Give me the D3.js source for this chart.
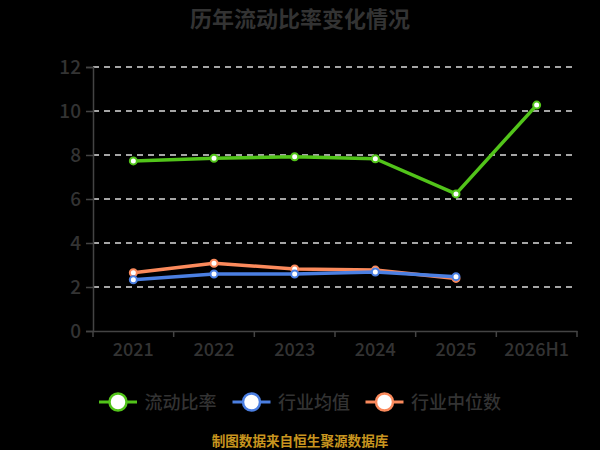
<!DOCTYPE html>
<html><head><meta charset="utf-8">
<script src="https://cdn.jsdelivr.net/npm/d3@7"></script>
<style>html,body{margin:0;padding:0;background:#000;}svg{display:block;}</style>
</head><body>
<svg id="c" width="600" height="450"></svg>
<script>
const categories = ["2021","2022","2023","2024","2025","2026H1"];
const currentRatio = [7.73, 7.85, 7.92, 7.83, 6.23, 10.27];
const industryMean = [2.33, 2.59, 2.59, 2.68, 2.47, null];
const industryMedian = [2.65, 3.08, 2.82, 2.77, 2.39, null];
const yTicks = [0, 2, 4, 6, 8, 10, 12];
const seriesNames = ["流动比率", "行业均值", "行业中位数"];
const seriesColors = ["#52c41a", "#4b7fe2", "#fb8a5c"];
const title = "历年流动比率变化情况";
const footer = "制图数据来自恒生聚源数据库";

(function () {
const svg = d3.select("#c");
const font = "'Noto Sans CJK SC','Noto Sans',sans-serif";
const pLeft = 93, pRight = 577, pTop = 67, pBottom = 331;

const x = d3.scaleBand().domain(categories).range([pLeft, pRight]);
const y = d3.scaleLinear().domain([0, 12]).range([pBottom, pTop]);

svg.append("text").attr("x", 300).attr("y", 27).attr("text-anchor", "middle")
  .attr("font-family", font).attr("font-weight", "bold").attr("font-size", 22)
  .attr("fill", "#333").text(title);

// grid
svg.append("g").selectAll("line").data(yTicks.filter(d => d > 0)).join("line")
  .attr("x1", pLeft).attr("x2", pRight).attr("y1", d => y(d)).attr("y2", d => y(d))
  .attr("stroke", "#dcdcdc").attr("stroke-width", 1.5).attr("stroke-dasharray", "6,5");

// y axis
const ya = svg.append("g").attr("transform", `translate(${pLeft},0)`)
  .call(d3.axisLeft(y).tickValues(yTicks).tickSize(7).tickPadding(5));
ya.select(".domain").attr("stroke", "#444").attr("stroke-width", 1.5);
ya.selectAll(".tick line").attr("stroke", "#444").attr("stroke-width", 1.5);
ya.selectAll("text").attr("font-family", font).attr("font-size", 19).attr("font-weight", 500).attr("fill", "#333");

// x axis
const xa = svg.append("g").attr("transform", `translate(0,${pBottom})`)
  .call(d3.axisBottom(x).tickSize(0));
xa.select(".domain").attr("stroke", "#444").attr("stroke-width", 1.5);
xa.selectAll("text").attr("font-family", font).attr("font-size", 18).attr("font-weight", 500)
  .attr("fill", "#333").attr("dy", null).attr("y", 25);
xa.selectAll(".bt").data(categories.concat(["end"])).join("line")
  .attr("x1", (d,i) => pLeft + i * x.step()).attr("x2", (d,i) => pLeft + i * x.step())
  .attr("y1", 0).attr("y2", 6).attr("stroke", "#444").attr("stroke-width", 1.5);

const allSeries = [currentRatio, industryMean, industryMedian];
[2, 1, 0].forEach(si => {
  const vals = allSeries[si];
  const pts = categories.map((c, i) => ({c, v: vals[i]})).filter(d => d.v != null);
  const line = d3.line().x(d => x(d.c) + x.bandwidth() / 2).y(d => y(d.v));
  svg.append("path").datum(pts).attr("d", line).attr("fill", "none")
    .attr("stroke", seriesColors[si]).attr("stroke-width", 3.5).attr("stroke-linejoin", "round");
  svg.append("g").selectAll("circle").data(pts).join("circle")
    .attr("cx", d => x(d.c) + x.bandwidth() / 2).attr("cy", d => y(d.v)).attr("r", 3.5)
    .attr("fill", "#fff").attr("stroke", seriesColors[si]).attr("stroke-width", 2);
});

// legend
const legendX = [99, 232.5, 365.5];
const lg = svg.append("g");
seriesNames.forEach((n, i) => {
  const g = lg.append("g").attr("transform", `translate(${legendX[i]},402)`);
  g.append("line").attr("x1", 0).attr("x2", 38).attr("y1", 0).attr("y2", 0)
    .attr("stroke", seriesColors[i]).attr("stroke-width", 3);
  g.append("circle").attr("cx", 19).attr("cy", 0).attr("r", 8.5)
    .attr("fill", "#fff").attr("stroke", seriesColors[i]).attr("stroke-width", 2.5);
  g.append("text").attr("x", 45.5).attr("y", 7).attr("font-family", font).attr("font-size", 18)
    .attr("font-weight", 500).attr("fill", "#333").text(n);
});

svg.append("text").attr("x", 300).attr("y", 446).attr("text-anchor", "middle")
  .attr("font-family", font).attr("font-weight", "bold").attr("font-size", 13.6)
  .attr("fill", "#c8951f").text(footer);
})();
</script>
</body></html>
